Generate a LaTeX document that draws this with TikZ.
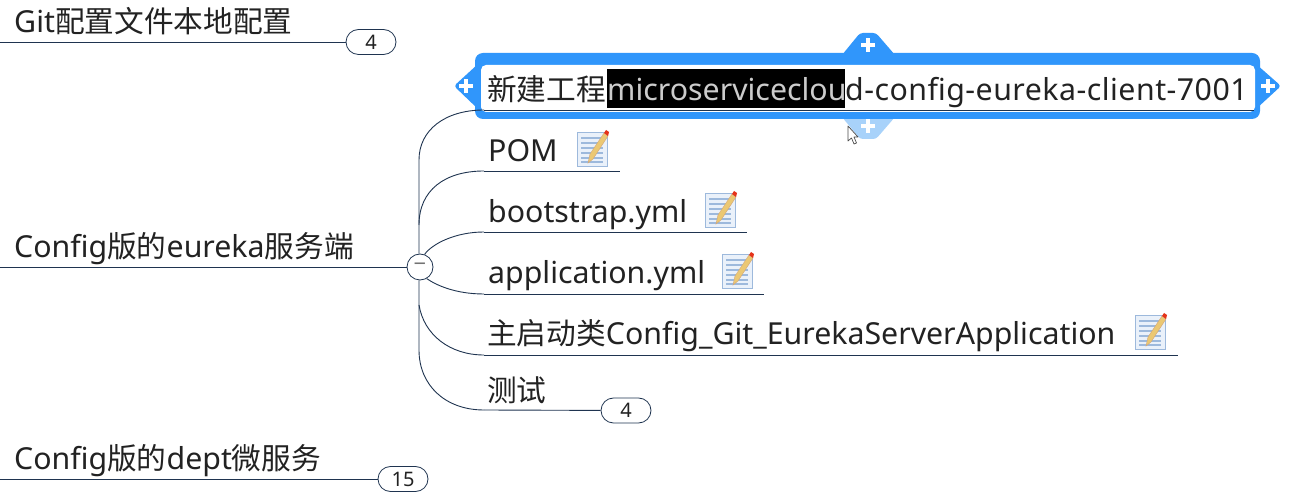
\documentclass[tikz,border=0pt]{standalone}
\usepackage{fontspec}
\setmainfont{Noto Sans}
\newfontfamily\cjk[Scale=0.98]{Noto Sans CJK SC}
\usetikzlibrary{calc, positioning}
\definecolor{lineNavy}{HTML}{1F3450}
\definecolor{mainBlack}{HTML}{222222}
\definecolor{selBlue}{HTML}{3096FB}
\definecolor{selPale}{HTML}{A8D2FA}
\definecolor{noteBlue}{HTML}{9DB9DC}
\definecolor{notePaper}{HTML}{EAF1FA}
\definecolor{pencilTan}{HTML}{EBC873}
\tikzset{
  topic/.style={anchor=base west, inner sep=0pt, text=mainBlack, font=\fontsize{30.3}{36}\selectfont},
  branch/.style={draw=lineNavy, line width=0.9pt},
  count/.style={draw=lineNavy, line width=0.8pt, fill=white, rounded corners=12.5pt, minimum width=50pt, minimum height=25pt, inner sep=0pt, text=mainBlack, font=\fontsize{20}{24}\selectfont},
  plusmark/.pic={
    \fill[white] (-7,-2.2) rectangle (7,2.2);
    \fill[white] (-2.2,-7) rectangle (2.2,7);
  },
  noteicon/.pic={
    \draw[noteBlue, fill=notePaper, line width=0.8pt] (0,0) rectangle (30,34);
    \foreach \ly in {6,11,16,21,26,30}
      \draw[noteBlue, line width=1.2pt] (4,\ly) -- (26,\ly);
    \fill[pencilTan, draw=brown!70, line width=0.4pt] (11,31) -- (13,22) -- (27,1) -- (31,4) -- (16,27) -- cycle;
    \fill[red!60!brown] (27,1) -- (29,-2) -- (32,0) -- (31,4) -- cycle;
  }
}
\begin{document}
\begin{tikzpicture}[x=1pt, y=-1pt]
    \useasboundingbox (0,0) rectangle (1294,502);
    \fill[white] (0,0) rectangle (1294,502);

    % selection frame
    \fill[selPale, rounded corners=3pt] (842,117) -- (860,139) -- (876,139) -- (895,117) -- cycle;
    \fill[selBlue, rounded corners=3pt] (842,55) -- (860,33) -- (876,33) -- (895,55) -- cycle;
    \fill[selBlue, rounded corners=3pt] (478,64) -- (454,86) -- (478,109) -- cycle;
    \fill[selBlue, rounded corners=3pt] (1256,64) -- (1281,86) -- (1256,109) -- cycle;
    \fill[selBlue, rounded corners=8pt] (475,53) rectangle (1260,119);
    \fill[white, rounded corners=5pt] (481,65) rectangle (1255,112);
    \pic at (868,45) {plusmark};
    \pic at (868,126) {plusmark};
    \pic at (466,86) {plusmark};
    \pic at (1268,86) {plusmark};
    \fill[black] (607,69) rectangle (845,108);

    % texts
    \node[topic] (gitTopic) at (14,33) {Git{\cjk 配置文件本地配置}};
    \node[topic] (serverTopic) at (14,258) {Config{\cjk 版的}eureka{\cjk 服务端}};
    \node[topic] (deptTopic) at (14,470) {Config{\cjk 版的}dept{\cjk 微服务}};
    \node[topic] (newTopic) at (487,101) {\cjk 新建工程};
    \node[topic, text=black!20] (selText) at (607,101) {microserviceclou};
    \node[topic] (restText) at (845,101) {\addfontfeature{LetterSpace=1.6}d-config-eureka-client-7001};
    \node[topic] (pomTopic) at (488,162) {POM};
    \node[topic] (bootTopic) at (488,223) {bootstrap.yml};
    \node[topic] (appTopic) at (488,284) {application.yml};
    \node[topic] (mainTopic) at (487,345) {{\cjk 主启动类}Config\_Git\_EurekaServerApplication};
    \node[topic] (testTopic) at (487,402) {\cjk 测试};

    % badges
    \node[count] (gitCount) at (371,42) {4};
    \node[count] (testCount) at (626,410.5) {4};
    \node[count] (deptCount) at (403,479) {15};
    \node[circle, draw=lineNavy, line width=0.8pt, fill=white, minimum size=26pt, inner sep=0pt, text=black!55, font=\fontsize{22}{24}\selectfont] (collapse) at (420,267) {−};

    % line ends
    \coordinate (gitLeft) at (0,42);
    \coordinate (serverLeft) at (0,267);
    \coordinate (deptLeft) at (0,479);
    \coordinate (newStart) at (484,110);
    \coordinate (newEnd) at (1254,110);
    \coordinate (pomStart) at (484,171);
    \coordinate (pomEnd) at (620,171);
    \coordinate (bootStart) at (484,232);
    \coordinate (bootEnd) at (747,232);
    \coordinate (appStart) at (484,294);
    \coordinate (appEnd) at (764,294);
    \coordinate (mainStart) at (484,355);
    \coordinate (mainEnd) at (1178,355);
    \coordinate (testStart) at (484,410);

    \draw[branch] (gitLeft) -- (gitCount);
    \draw[branch] (serverLeft) -- (collapse);
    \draw[branch] (deptLeft) -- (deptCount);
    \draw[branch] (newStart) -- (newEnd);
    \draw[branch] (pomStart) -- (pomEnd);
    \draw[branch] (bootStart) -- (bootEnd);
    \draw[branch] (appStart) -- (appEnd);
    \draw[branch] (mainStart) -- (mainEnd);
    \draw[branch] (testStart) -- (testCount);

    % curves into the trunk
    \draw[branch] (collapse.north -| 419,0) -- (419,160) .. controls (419,130) and (445,110) .. (newStart);
    \draw[branch] (419,225) .. controls (419,190) and (445,171) .. (pomStart);
    \draw[branch] (collapse.70) .. controls (432,244) and (455,232) .. (bootStart);
    \draw[branch] (collapse.-60) .. controls (436,285) and (455,294) .. (appStart);
    \draw[branch] (collapse.south -| 419,0) -- (419,350) .. controls (419,385) and (445,410) .. (testStart);
    \draw[branch] (419,305) .. controls (424,335) and (450,355) .. (mainStart);

    % note icons
    \pic at (577,132) {noteicon};
    \pic at (705,193) {noteicon};
    \pic at (722,254) {noteicon};
    \pic at (1135,315) {noteicon};

    % mouse pointer
    \draw[black!70, fill=white, line width=0.7pt, line join=round] (848,126) -- (848,141) -- (851.5,138) -- (854,144) -- (856.5,143) -- (854,137) -- (858,137) -- cycle;
\end{tikzpicture}
\end{document}
